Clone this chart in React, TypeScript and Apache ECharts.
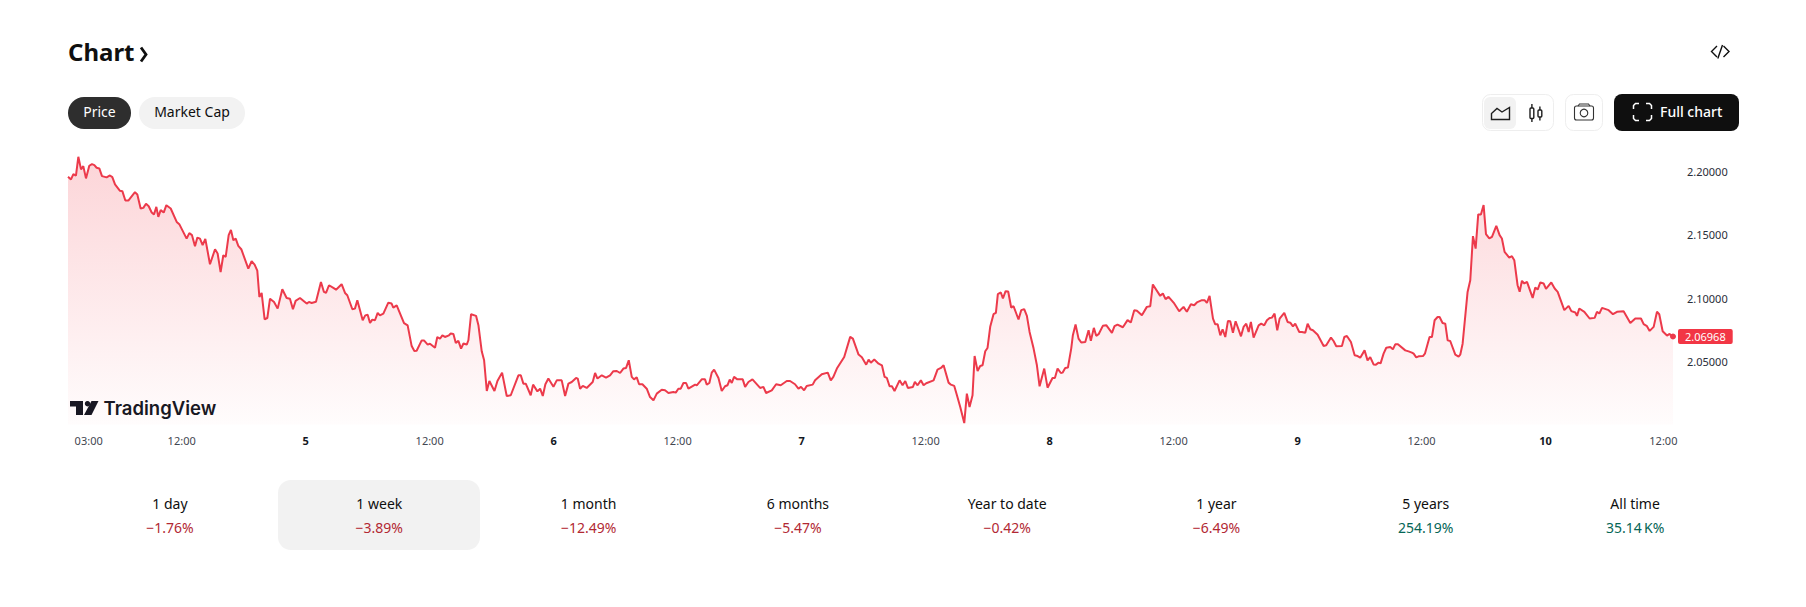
import { useEffect, useRef } from 'react';
import * as echarts from 'echarts';

// [hours since the 4th 00:00, price], one list per day
const day4 = [
  [1.0, 2.196], [1.29, 2.1939], [1.52, 2.1981], [1.77, 2.1968], [2.0, 2.2118], [2.26, 2.2018], [2.48, 2.2044], [2.74, 2.1947],
  [3.06, 2.2047], [3.32, 2.206], [3.55, 2.2052], [3.77, 2.2031], [4.03, 2.2026], [4.29, 2.1965], [4.74, 2.1955], [5.06, 2.197],
  [5.29, 2.1957], [5.55, 2.1899], [6.03, 2.1849], [6.26, 2.1846], [6.55, 2.1772], [6.84, 2.1772], [7.48, 2.1838], [7.71, 2.182],
  [8.03, 2.1709], [8.29, 2.1714], [8.55, 2.1746], [8.81, 2.1727], [9.1, 2.1677], [9.32, 2.1661], [9.55, 2.1722], [9.74, 2.1643],
  [9.97, 2.1696], [10.26, 2.1677], [10.52, 2.1735], [10.94, 2.1709], [11.52, 2.1603], [11.77, 2.1585], [12.48, 2.1471], [12.74, 2.1514],
  [13.0, 2.1498], [13.29, 2.1411], [13.52, 2.1479], [13.77, 2.1471], [14.03, 2.1419], [14.29, 2.1469], [14.74, 2.1268], [15.23, 2.1387],
  [15.48, 2.1353], [15.77, 2.1207], [16.03, 2.1339], [16.26, 2.1326], [16.55, 2.1498], [16.77, 2.154], [17.0, 2.1458], [17.23, 2.1471],
  [17.48, 2.1413], [17.77, 2.1387], [18.45, 2.1234], [18.77, 2.1292], [19.06, 2.1265], [19.32, 2.1218], [19.52, 2.1009], [19.74, 2.1041],
  [20.03, 2.0833], [20.29, 2.0843], [20.55, 2.0996], [20.94, 2.097], [21.29, 2.0917], [21.74, 2.107], [22.16, 2.1001], [22.48, 2.0996],
  [22.77, 2.0912], [23.03, 2.0978], [23.45, 2.1001],
];
const day5 = [
  [24.1, 2.0957], [24.32, 2.097], [24.58, 2.0962], [25.0, 2.0972], [25.48, 2.1128], [25.77, 2.1049], [25.97, 2.1041], [26.26, 2.1102],
  [26.68, 2.1081], [26.94, 2.1067], [27.48, 2.111], [27.81, 2.1041], [28.03, 2.1023], [28.52, 2.0912], [28.77, 2.0917], [29.0, 2.0983],
  [29.52, 2.0825], [29.77, 2.0864], [30.0, 2.0869], [30.23, 2.0803], [30.45, 2.083], [30.71, 2.0825], [30.97, 2.0883], [31.19, 2.0864],
  [31.52, 2.0877], [32.0, 2.0964], [32.32, 2.0957], [32.48, 2.0925], [32.81, 2.0943], [33.52, 2.0803], [33.87, 2.0785], [34.26, 2.0621],
  [34.52, 2.0582], [34.74, 2.0584], [35.23, 2.0666], [35.45, 2.0666], [35.81, 2.0632], [36.03, 2.064], [36.52, 2.0608], [36.74, 2.0693],
  [37.0, 2.0679], [37.23, 2.0706], [37.48, 2.0693], [37.87, 2.0706], [38.04, 2.072], [38.3, 2.0717], [38.53, 2.0646], [38.78, 2.0662],
  [39.04, 2.0601], [39.27, 2.0641], [39.59, 2.0633], [39.75, 2.0667], [40.01, 2.0873], [40.49, 2.086], [40.72, 2.0786], [41.04, 2.058],
  [41.27, 2.0509], [41.53, 2.0266], [41.78, 2.0345], [42.27, 2.0266], [42.56, 2.0345], [43.01, 2.0411], [43.46, 2.0226], [43.85, 2.0232],
  [44.59, 2.039], [44.82, 2.039], [45.07, 2.0324], [45.3, 2.0324], [45.78, 2.0232], [46.01, 2.0316], [46.43, 2.0263], [46.69, 2.0284],
  [46.95, 2.0226], [47.2, 2.0319], [47.49, 2.0364], [47.98, 2.03],
];
const day6 = [
  [48.3, 2.035], [48.78, 2.035], [49.11, 2.0226], [49.43, 2.0324], [49.75, 2.0337], [50.17, 2.0369], [50.33, 2.0364], [50.56, 2.0284],
  [50.82, 2.0306], [51.2, 2.029], [51.78, 2.0337], [52.01, 2.0408], [52.24, 2.0364], [52.66, 2.039], [53.07, 2.0372], [53.46, 2.039],
  [53.78, 2.0422], [54.11, 2.0424], [54.43, 2.0408], [54.75, 2.0443], [55.01, 2.0448], [55.27, 2.0509], [55.56, 2.0377], [55.78, 2.0358],
  [56.04, 2.0374], [56.27, 2.0319], [56.59, 2.0319], [57.01, 2.0284], [57.33, 2.0218], [57.66, 2.0192], [57.98, 2.0245], [58.46, 2.0276],
  [58.78, 2.0271], [59.11, 2.025], [59.59, 2.0258], [59.82, 2.0253], [60.07, 2.0284], [60.3, 2.0284], [60.56, 2.0329], [60.82, 2.0329],
  [61.04, 2.0284], [61.69, 2.0316], [61.85, 2.0311], [62.33, 2.0358], [62.65, 2.0358], [62.82, 2.0316], [63.07, 2.0329], [63.3, 2.0411],
  [63.53, 2.0435], [63.95, 2.0369], [64.27, 2.0266], [64.59, 2.0303], [64.82, 2.0311], [65.04, 2.0356], [65.24, 2.0329], [65.46, 2.0377],
  [65.78, 2.0358], [66.3, 2.0358], [66.53, 2.0298], [66.85, 2.0337], [67.24, 2.0358], [67.98, 2.029], [68.3, 2.0298], [68.56, 2.025],
  [69.11, 2.0271], [69.53, 2.0319], [69.98, 2.0311], [70.56, 2.0345], [70.88, 2.0345], [71.36, 2.0319], [71.69, 2.0284],
];
const day7 = [
  [71.94, 2.0298], [72.24, 2.0271], [72.49, 2.0306], [73.07, 2.0316], [73.3, 2.035], [73.95, 2.0398], [74.53, 2.0411], [74.82, 2.035],
  [75.07, 2.0377], [75.41, 2.0443], [76.12, 2.0535], [76.7, 2.0694], [76.96, 2.068], [77.51, 2.0554], [77.83, 2.0533], [78.25, 2.0474],
  [78.48, 2.0514], [78.7, 2.049], [79.03, 2.0514], [79.45, 2.0482], [79.77, 2.0469], [80.03, 2.0377], [80.25, 2.0369], [80.51, 2.0303],
  [80.74, 2.0303], [80.99, 2.0266], [81.48, 2.035], [81.77, 2.0311], [82.03, 2.0345], [82.28, 2.029], [82.77, 2.0298], [82.96, 2.0337],
  [83.22, 2.0311], [83.54, 2.035], [83.8, 2.0311], [84.06, 2.0327], [84.77, 2.035], [85.15, 2.0435], [85.48, 2.0448], [85.74, 2.0469],
  [86.22, 2.0332], [86.45, 2.0316], [86.77, 2.0306], [87.03, 2.0232], [87.35, 2.0139], [87.74, 2.0012], [87.99, 2.0245], [88.25, 2.0139],
  [88.54, 2.0232], [88.74, 2.0543], [89.03, 2.0424], [89.28, 2.0464], [89.51, 2.0469], [89.77, 2.058], [89.99, 2.0606], [90.25, 2.0773],
  [90.57, 2.0873], [90.8, 2.0884], [90.99, 2.1032], [91.28, 2.1045], [91.48, 2.0997], [91.74, 2.1055], [91.99, 2.1053], [92.28, 2.0926],
  [92.51, 2.0936], [92.99, 2.0831], [93.25, 2.0905], [93.54, 2.0913], [93.8, 2.086], [94.06, 2.0733], [94.45, 2.0601], [94.77, 2.0469],
  [95.03, 2.0303], [95.48, 2.0443], [95.8, 2.0292],
];
const day8 = [
  [96.28, 2.0369], [96.51, 2.0369], [96.77, 2.0443], [97.09, 2.0408], [97.25, 2.0411], [97.51, 2.0448], [97.77, 2.0451], [98.09, 2.0601],
  [98.25, 2.0707], [98.51, 2.0791], [98.8, 2.068], [99.06, 2.0649], [99.45, 2.0654], [99.77, 2.0746], [99.99, 2.0662], [100.28, 2.0765],
  [100.51, 2.0702], [100.74, 2.0715], [101.15, 2.0781], [101.48, 2.0786], [102.03, 2.0725], [102.28, 2.0778], [102.57, 2.0791], [103.09, 2.077],
  [103.54, 2.0826], [103.86, 2.0807], [104.19, 2.0905], [104.45, 2.09], [104.93, 2.0865], [105.41, 2.0931], [105.74, 2.0936], [105.99, 2.1108],
  [106.7, 2.1018], [106.96, 2.1037], [107.22, 2.0992], [107.51, 2.101], [108.06, 2.0958], [108.54, 2.0897], [108.96, 2.0931], [109.28, 2.0892],
  [109.67, 2.0952], [109.99, 2.0944], [110.25, 2.0966], [110.74, 2.0984], [110.99, 2.0984], [111.22, 2.0963], [111.48, 2.1018], [111.81, 2.0838],
  [112.03, 2.0793], [112.26, 2.0793], [112.52, 2.0706], [112.74, 2.0754], [113.0, 2.0693], [113.26, 2.082], [113.48, 2.0817], [113.74, 2.0727],
  [114.0, 2.0817], [114.52, 2.0698], [114.77, 2.0772], [115.03, 2.0798], [115.26, 2.0732], [115.48, 2.0812], [115.74, 2.0688], [116.23, 2.0785],
  [116.48, 2.0798], [116.77, 2.0785], [117.03, 2.0825], [117.29, 2.0843], [117.52, 2.0846], [117.77, 2.0878],
];
const day9 = [
  [118.03, 2.0746], [118.26, 2.0838], [118.71, 2.0883], [119.03, 2.0812], [119.29, 2.0806], [119.55, 2.0777], [119.77, 2.0798], [120.16, 2.0732],
  [120.42, 2.0732], [120.74, 2.0727], [120.97, 2.0798], [121.23, 2.0754], [121.48, 2.0746], [121.94, 2.0711], [122.52, 2.0622], [122.77, 2.0627],
  [123.23, 2.0688], [123.48, 2.0661], [123.74, 2.0619], [124.29, 2.0622], [124.52, 2.0693], [124.77, 2.0701], [125.16, 2.0653], [125.52, 2.0548],
  [125.81, 2.0542], [126.06, 2.0529], [126.48, 2.0587], [126.77, 2.0508], [127.03, 2.0534], [127.35, 2.0476], [127.58, 2.0474], [127.84, 2.049],
  [128.03, 2.0484], [128.32, 2.0561], [128.58, 2.0608], [128.97, 2.0614], [129.22, 2.0595], [129.45, 2.0635], [129.71, 2.0635], [130.42, 2.0587],
  [130.74, 2.0579], [131.06, 2.0569], [131.23, 2.0561], [131.48, 2.0532], [131.71, 2.054], [132.13, 2.0542], [132.32, 2.0561], [132.77, 2.0693],
  [133.0, 2.0693], [133.26, 2.0825], [133.55, 2.0851], [133.74, 2.0851], [134.03, 2.0804], [134.29, 2.0798], [134.52, 2.0666], [134.77, 2.0661],
  [135.26, 2.0553], [135.58, 2.0537], [135.74, 2.0553], [135.97, 2.064], [136.45, 2.1049], [136.71, 2.1142], [136.97, 2.149], [137.23, 2.1392],
  [137.48, 2.1662], [137.74, 2.1662], [138.0, 2.1736], [138.23, 2.1506], [138.55, 2.1472], [138.81, 2.1485], [139.23, 2.1572], [139.55, 2.1498],
  [139.77, 2.1472], [140.03, 2.1366], [140.48, 2.1321], [140.74, 2.1332], [140.97, 2.13], [141.29, 2.1102], [141.49, 2.105], [141.71, 2.1137],
];
const day10 = [
  [141.94, 2.1116], [142.2, 2.1129], [142.75, 2.1002], [143.0, 2.1084], [143.23, 2.1068], [143.49, 2.1124], [143.81, 2.1116], [144.04, 2.1074],
  [144.55, 2.1124], [144.88, 2.1076], [145.17, 2.105], [145.81, 2.0905], [146.23, 2.0939], [146.49, 2.0897], [146.88, 2.0886], [147.04, 2.086],
  [147.26, 2.0918], [147.75, 2.0892], [148.26, 2.0839], [148.75, 2.0844], [148.97, 2.0892], [149.2, 2.0878], [149.46, 2.0923], [150.1, 2.0905],
  [150.52, 2.0873], [150.91, 2.0892], [151.55, 2.0897], [152.2, 2.0804], [152.68, 2.0839], [153.23, 2.0839], [153.49, 2.0794], [153.81, 2.0778],
  [154.07, 2.0741], [154.46, 2.0773], [154.78, 2.0892], [155.0, 2.0873], [155.33, 2.0738], [155.75, 2.0704], [156.0, 2.0717], [156.33, 2.06968],
];

const xTickHours = [3, 12, 24, 36, 48, 60, 72, 84, 96, 108, 120, 132, 144, 155.4];
const xTickLabels = ['03:00', '12:00', '5', '12:00', '6', '12:00', '7', '12:00', '8', '12:00', '9', '12:00', '10', '12:00'];
const yTickValues = [2.05, 2.1, 2.15, 2.2];

const rangeLabels = ['1 day', '1 week', '1 month', '6 months', 'Year to date', '1 year', '5 years', 'All time'];
const rangeChanges = ['−1.76%', '−3.89%', '−12.49%', '−5.47%', '−0.42%', '−6.49%', '254.19%', '35.14\u202fK%'];

const FONT = '"Noto Sans", sans-serif';
const RED = '#ec3a4b';
const BADGE_RED = '#f23645';
const INK = '#131722';
const RANGE_RED = '#b22833';
const RANGE_GREEN = '#056656';

const label = (text: string, x: number, y: number, fontSize: number, fill: string, extra: any = {}) => ({
  type: 'text',
  style: { text, x, y, fontSize, fill, fontFamily: FONT, textAlign: 'center', textVerticalAlign: 'middle', ...extra },
});

const stroke = (color: string, lineWidth: number) => ({ stroke: color, lineWidth, fill: 'none' });

const line = (points: number[][], color: string, lineWidth: number) => ({
  type: 'polyline',
  shape: { points },
  style: stroke(color, lineWidth),
});

const box = (x: number, y: number, width: number, height: number, r: number, style: any) => ({
  type: 'rect',
  shape: { x, y, width, height, r },
  style,
});

function buildGraphic() {
  const els: any[] = [
    label('Chart', 68, 51, 24, '#0f0f0f', { textAlign: 'left', fontWeight: 700 }),
    line([[141, 47.5], [146, 54.5], [141, 61.5]], '#0f0f0f', 2.8),

    box(68, 97, 63, 32, 16, { fill: '#2e2e2e' }),
    label('Price', 99.5, 111.5, 14, '#ffffff'),
    box(139, 97, 106, 32, 16, { fill: '#f2f2f2' }),
    label('Market Cap', 192, 111.5, 14, '#0f0f0f'),

    // embed icon
    line([[1717, 46], [1711.5, 51.5], [1717, 57]], '#0f0f0f', 1.4),
    line([[1722.5, 45], [1717.8, 58.5]], '#0f0f0f', 1.4),
    line([[1723.5, 46], [1729, 51.5], [1723.5, 57]], '#0f0f0f', 1.4),

    // chart type switch
    box(1482.5, 94.5, 71, 36, 8, { fill: '#ffffff', stroke: '#eeeeee', lineWidth: 1 }),
    box(1484, 97, 32, 32, 6, { fill: '#f2f2f2' }),
    { type: 'polygon', shape: { points: [[1491.5, 119.5], [1491.5, 113.5], [1497, 108.5], [1502, 112], [1509.5, 107.5], [1509.5, 119.5]] }, style: stroke('#1e1e1e', 1.4) },
    box(1530, 108, 3.8, 10.5, 1, stroke('#1e1e1e', 1.4)),
    line([[1531.9, 104], [1531.9, 108]], '#1e1e1e', 1.4),
    line([[1531.9, 118.5], [1531.9, 122]], '#1e1e1e', 1.4),
    box(1538, 110, 3.8, 7, 1, stroke('#1e1e1e', 1.4)),
    line([[1539.9, 106.5], [1539.9, 110]], '#1e1e1e', 1.4),
    line([[1539.9, 117], [1539.9, 120.5]], '#1e1e1e', 1.4),

    // camera
    box(1565.5, 94.5, 37, 36, 8, { fill: '#ffffff', stroke: '#eeeeee', lineWidth: 1 }),
    box(1574.5, 106, 19, 14, 2, stroke('#333333', 1.1)),
    line([[1578, 106], [1579.5, 104], [1588.5, 104], [1590, 106]], '#333333', 1.1),
    { type: 'circle', shape: { cx: 1584, cy: 113, r: 3.8 }, style: stroke('#333333', 1.1) },

    // full chart
    box(1614, 94, 125, 37, 8, { fill: '#0f0f0f' }),
    line([[1633.5, 109], [1633.5, 105.5], [1635.5, 103.5], [1639, 103.5]], '#ffffff', 1.5),
    line([[1646, 103.5], [1649.5, 103.5], [1651.5, 105.5], [1651.5, 109]], '#ffffff', 1.5),
    line([[1633.5, 115], [1633.5, 118.5], [1635.5, 120.5], [1639, 120.5]], '#ffffff', 1.5),
    line([[1646, 120.5], [1649.5, 120.5], [1651.5, 118.5], [1651.5, 115]], '#ffffff', 1.5),
    label('Full chart', 1660, 111, 14, '#ffffff', { textAlign: 'left', fontWeight: 500 }),

    // TradingView mark
    { type: 'polygon', shape: { points: [[70, 401], [83, 401], [83, 415], [76, 415], [76, 406.5], [70, 406.5]] }, style: { fill: '#131722' } },
    { type: 'circle', shape: { cx: 87.5, cy: 403.7, r: 2.7 }, style: { fill: '#131722' } },
    { type: 'polygon', shape: { points: [[91.5, 401], [98.5, 401], [91.5, 415], [84, 415]] }, style: { fill: '#131722' } },
    label('TradingView', 103.5, 408, 18.5, '#131722', { textAlign: 'left', fontFamily: 'Inter, sans-serif', fontWeight: 600 }),

    box(278, 480, 202, 70, 13, { fill: '#f2f2f2' }),
  ];

  rangeLabels.forEach((text, i) => {
    const cx = 170 + 209.3 * i;
    els.push(label(text, cx, 503, 14, '#0f0f0f'));
    els.push(label(rangeChanges[i], cx, 527, 14, rangeChanges[i].startsWith('−') ? RANGE_RED : RANGE_GREEN));
  });
  return els;
}

export default function App() {
  const chartRef = useRef<HTMLDivElement>(null);

  useEffect(() => {
    if (!chartRef.current) return;

    const chart = echarts.init(chartRef.current, null, { renderer: 'svg' });
    const points = [...day4, ...day5, ...day6, ...day7, ...day8, ...day9, ...day10];
    const last = points[points.length - 1];

    const option: any = {
      animation: false,
      backgroundColor: '#ffffff',
      textStyle: { fontFamily: FONT },
      grid: { left: 68, width: 1605, top: 146.4, height: 278.2 },
      xAxis: {
        type: 'value',
        min: 1,
        max: last[0],
        axisLine: { show: false },
        axisTick: { show: false },
        splitLine: { show: false },
        axisLabel: {
          customValues: xTickHours,
          margin: 10,
          fontSize: 11,
          color: '#434751',
          formatter: (v: number) => {
            const text = xTickLabels[xTickHours.indexOf(v)] ?? '';
            return text.includes(':') ? text : `{day|${text}}`;
          },
          rich: { day: { fontSize: 11, fontWeight: 700, color: INK } },
        },
      },
      yAxis: {
        type: 'value',
        position: 'right',
        min: 2,
        max: 2.22,
        axisLine: { show: false },
        axisTick: { show: false },
        splitLine: { show: false },
        axisLabel: {
          customValues: yTickValues,
          margin: 14,
          fontSize: 11,
          color: '#2a2e39',
          formatter: (v: number) => v.toFixed(5),
        },
      },
      series: [
        {
          type: 'line',
          data: points,
          symbol: 'none',
          clip: false,
          lineStyle: { color: RED, width: 2 },
          areaStyle: {
            origin: 'start',
            color: new echarts.graphic.LinearGradient(0, 0, 0, 1, [
              { offset: 0, color: 'rgba(242,54,69,0.3)' },
              { offset: 1, color: 'rgba(242,54,69,0.02)' },
            ]),
          },
          markPoint: {
            silent: true,
            data: [
              {
                coord: last,
                symbol: 'circle',
                symbolSize: 6,
                itemStyle: { color: RED },
                label: {
                  show: true,
                  position: 'right',
                  distance: 2,
                  formatter: last[1].toFixed(5),
                  fontSize: 11,
                  color: '#ffffff',
                  backgroundColor: BADGE_RED,
                  padding: [2, 7, 2, 7],
                  borderRadius: 2,
                },
              },
            ],
          },
        },
      ],
      graphic: buildGraphic(),
    };

    chart.setOption(option);

    return () => {
      chart.dispose();
    };
  }, []);

  return <div ref={chartRef} style={{ position: 'absolute', left: 0, top: 0, width: 1806, height: 607 }} />;
}
